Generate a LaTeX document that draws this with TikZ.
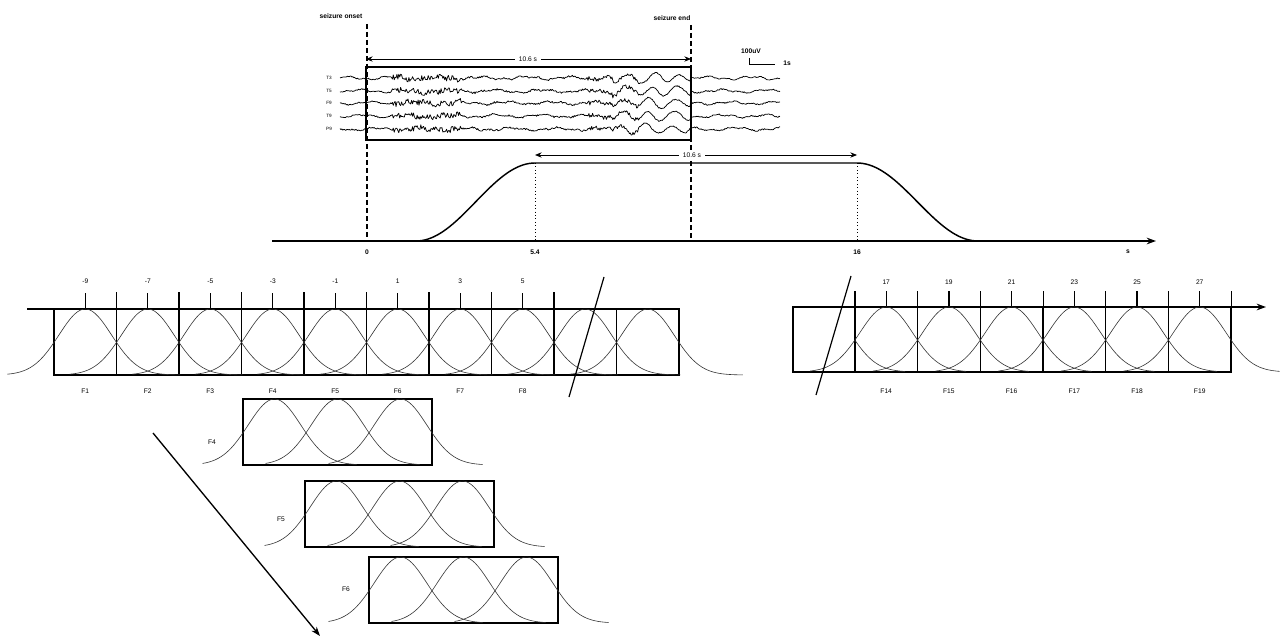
\documentclass[tikz,border=0pt]{standalone}
\usepackage{fontspec}
\setmainfont{Liberation Sans}
\usetikzlibrary{arrows.meta}
\newcommand\gcurve[5]{%
  \pgfmathsetmacro\gca{#1}\pgfmathsetmacro\gfr{#4}\pgfmathsetmacro\gto{#5}%
  \draw[gauss] plot[domain=\gfr:\gto, samples=60, smooth] (\x,{#2-#3*exp(-((\x-\gca)^2)/1383)});}
\begin{document}
\begin{tikzpicture}[x=0.75pt,y=-0.75pt,
  lbl/.style={font=\fontsize{5}{6}\selectfont, inner sep=1pt},
  tlbl/.style={font=\fontsize{3.5}{4}\selectfont, inner sep=0.5pt},
  blbl/.style={font=\fontsize{5}{6}\selectfont\bfseries, inner sep=1pt},
  gauss/.style={line width=0.45pt, black!80},
  frame/.style={line width=1pt},
  ax/.style={line width=1.1pt},
  dimarrow/.style={line width=0.6pt, {Stealth[length=5pt,width=4pt]}-{Stealth[length=5pt,width=4pt]}},
  eeg/.style={line width=0.55pt, line join=round},
  tk/.style={line width=0.9pt},
  dashv/.style={line width=0.8pt, dash pattern=on 3.5pt off 2.5pt},
  dotv/.style={line width=0.6pt, dotted}]
\useasboundingbox (0,0) rectangle (1281,638);

% ---------- top: EEG ----------
\node[blbl] (onset) at (341,16) {seizure onset};
\node[blbl] (endlbl) at (672,18) {seizure end};
\coordinate (on0) at (367,24);
\coordinate (on1) at (367,241);
\coordinate (en0) at (691,25);
\coordinate (en1) at (691,241);
\draw[dashv] (on0) -- (on1);
\draw[dashv] (en0) -- (en1);

\coordinate (dA) at (366,59);
\coordinate (dB) at (691,59);
\draw[dimarrow] (dA) -- (dB);
\node[lbl, fill=white, inner xsep=3pt] (dur1) at (528,59) {10.6 s};

\node[blbl] (uv) at (751,51) {100uV};
\coordinate (sb0) at (749,58);
\coordinate (sb1) at (749,64);
\coordinate (sb2) at (775,64);
\draw[line width=0.6pt] (sb0) -- (sb1) -- (sb2);
\node[blbl] (onesec) at (787,63) {1s};

\foreach \nm/\yy/\sd in {T3/78/11, T5/91/23, F9/103/37, T9/116/41, P9/129/53}{
  \node[tlbl] (ch\nm) at (329,\yy) {\nm};
  \pgfmathsetseed{\sd}
  \draw[eeg] plot[domain=340:780, samples=480]
    (\x,{\yy + (0.6 + 2.2*(\x>392)*(\x<462) + 0.3*(\x>462)*(\x<590) + 1.3*(\x>588)*(\x<640))*rand
      + 1.2*sin(8*(\x-340)+\sd*20) + 0.7*sin(21*(\x-340)+\sd*7)
      + (\x>612)*(\x<690)*4.2*sin(14*(\x-612)+\sd*3)});
}
\draw[frame] (366,67) rectangle (691,140);

% ---------- timeline ----------
\coordinate (ax0) at (272,241);
\coordinate (ax1) at (1156,241);
\draw[ax, -{Stealth[length=7pt,width=5pt]}] (ax0) -- (ax1);
\draw[line width=1.1pt] plot[domain=416:535, samples=40, smooth] (\x,{241-78*(1-cos(1.5126*(\x-416)))/2})
  -- (857,163)
  -- plot[domain=857:978, samples=40, smooth] (\x,{163+78*(1-cos(1.4876*(\x-857)))/2});
\coordinate (p1) at (535,163);
\coordinate (p1b) at (535,241);
\coordinate (p2) at (857,163);
\coordinate (p2b) at (857,241);
\draw[dotv] (p1) -- (p1b);
\draw[dotv] (p2) -- (p2b);
\coordinate (dC) at (535,155);
\coordinate (dD) at (857,155);
\draw[dimarrow] (dC) -- (dD);
\node[lbl, fill=white, inner xsep=3pt] (dur2) at (692,155) {10.6 s};
\node[blbl] (t0) at (367,252) {0};
\node[blbl] (t54) at (535,252) {5.4};
\node[blbl] (t16) at (857,252) {16};
\node[blbl] (ts) at (1128,252) {s};

% ---------- left row ----------
\coordinate (la0) at (27,309);
\coordinate (la1) at (679,309);
\draw[ax] (la0) -- (la1);
\draw[frame] (54,309) rectangle (679,375);
\foreach \k in {1,...,9}{ \draw[frame] ({54+62.5*\k},309) -- ({54+62.5*\k},375); }
\foreach \k in {1,...,8}{ \draw[tk] ({54+62.5*\k},292) -- ({54+62.5*\k},309); }
\foreach \k/\v in {0/-9,1/-7,2/-5,3/-3,4/-1,5/1,6/3,7/5}{
  \draw[tk] ({85.25+62.5*\k},293) -- ({85.25+62.5*\k},309);
  \node[lbl] (ln\k) at ({85.25+62.5*\k},281) {\v};
}
\foreach \k in {0,...,9}{
  \pgfmathsetmacro\cc{85.25+62.5*\k}
  \gcurve{\cc}{375}{66}{\cc-78}{\cc+95}
}
\foreach \k in {1,...,8}{ \node[lbl] (lf\k) at ({85.25+62.5*(\k-1)},391) {F\k}; }
\coordinate (sl0) at (569,397);
\coordinate (sl1) at (604,277);
\draw[line width=0.9pt] (sl0) -- (sl1);

% ---------- right row ----------
\coordinate (ra0) at (793,307);
\coordinate (ra1) at (1266,307);
\draw[ax, -{Stealth[length=7pt,width=5pt]}] (ra0) -- (ra1);
\draw[frame] (793,307) rectangle (1231,372);
\foreach \k in {0,...,5}{ \draw[frame] ({855+62.7*\k},307) -- ({855+62.7*\k},372); }
\foreach \k in {0,...,6}{ \draw[tk] ({855+62.7*\k},291) -- ({855+62.7*\k},307); }
\foreach \k/\v in {1/17,2/19,3/21,4/23,5/25,6/27}{
  \draw[tk] ({823.5+62.7*\k},291) -- ({823.5+62.7*\k},307);
  \node[lbl] (rn\k) at ({823.5+62.7*\k},282) {\v};
}
\gcurve{823.5}{372}{65}{855}{905}
\foreach \k in {1,...,6}{
  \pgfmathsetmacro\cc{823.5+62.7*\k}
  \gcurve{\cc}{372}{65}{\cc-76}{\cc+80}
}
\foreach \k/\f in {1/14,2/15,3/16,4/17,5/18,6/19}{ \node[lbl] (rf\f) at ({823.5+62.7*\k},391) {F\f}; }
\coordinate (sr0) at (816,395);
\coordinate (sr1) at (851,276);
\draw[line width=0.9pt] (sr0) -- (sr1);

% ---------- bottom frames ----------
\foreach \nm/\bx/\by/\lx/\ly in {F4/243/399/212/442, F5/305/481/281/519, F6/369/557/346/589}{
  \draw[frame] (\bx,\by) rectangle ({\bx+189},{\by+66});
  \foreach \j in {0,1,2}{
    \pgfmathsetmacro\cc{\bx+31.5+63*\j}
    \gcurve{\cc}{\by+66}{66}{\cc-72}{\cc+82}
  }
  \node[lbl] (b\nm) at (\lx,\ly) {\nm};
}
\coordinate (da0) at (153,433);
\coordinate (da1) at (320,636);
\draw[line width=1pt, -{Stealth[length=7pt,width=5pt]}] (da0) -- (da1);
\end{tikzpicture}
\end{document}
